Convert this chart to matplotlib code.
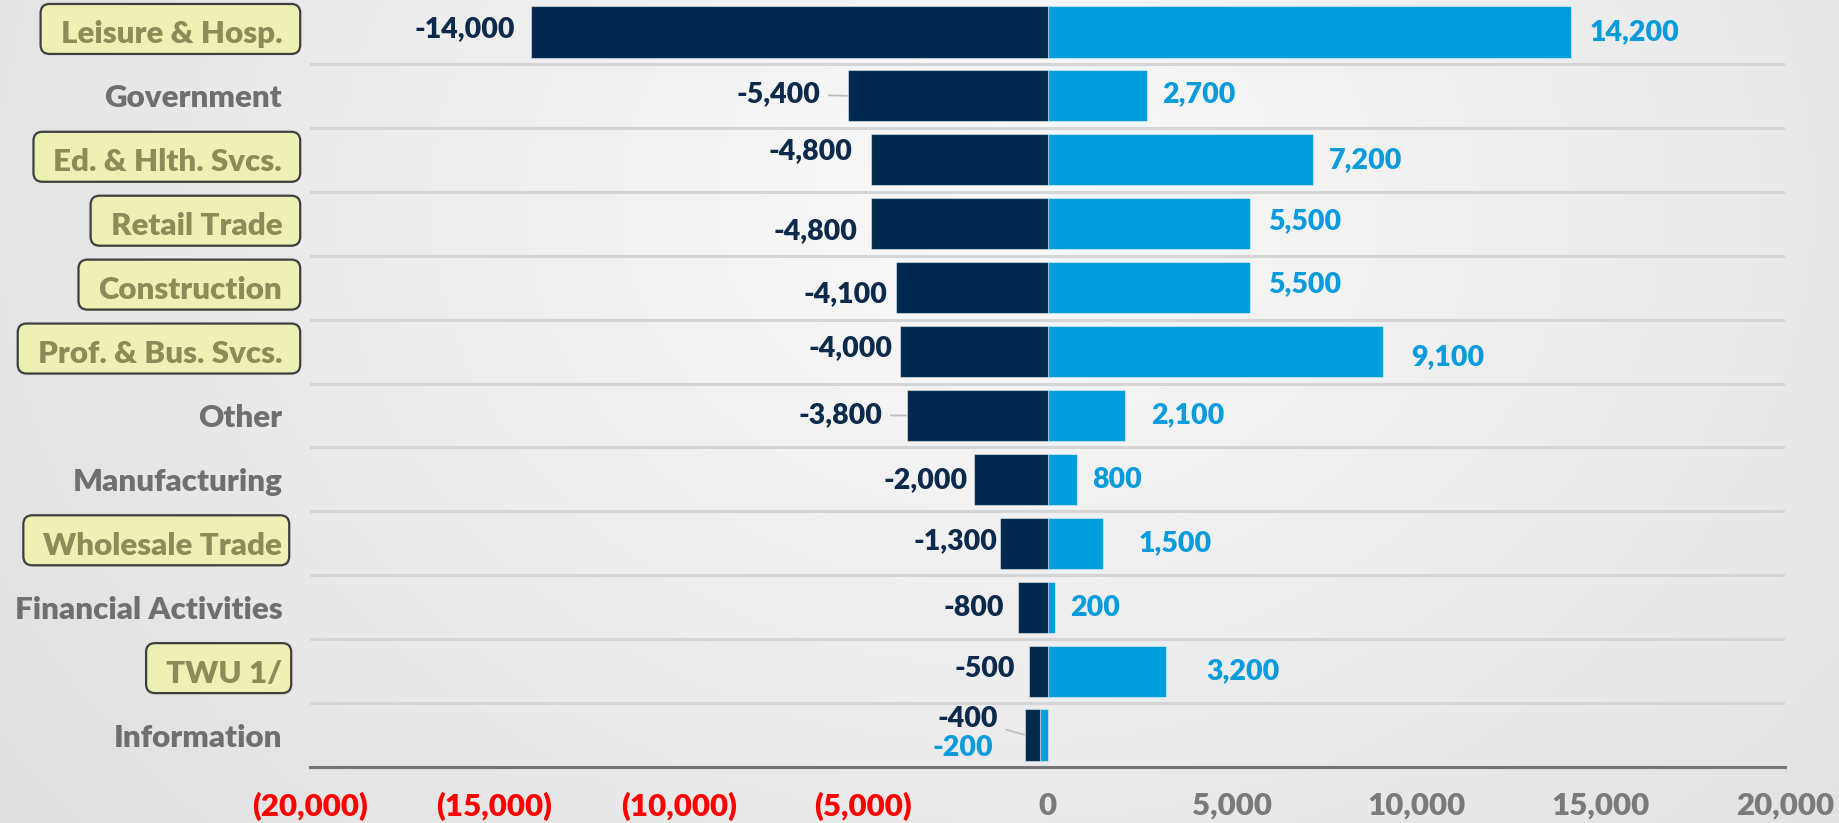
import numpy as np
import matplotlib
matplotlib.use("Agg")
import matplotlib.pyplot as plt
from matplotlib.patches import FancyBboxPatch
from matplotlib.transforms import IdentityTransform

# ---- data -------------------------------------------------------------
categories = ["Leisure & Hosp.", "Government", "Ed. & Hlth. Svcs.", "Retail Trade",
              "Construction", "Prof. & Bus. Svcs.", "Other", "Manufacturing",
              "Wholesale Trade", "Financial Activities", "TWU 1/", "Information"]
highlighted = [True, False, True, True, True, True, False, False, True, False, True, False]
losses = [-14000, -5400, -4800, -4800, -4100, -4000, -3800, -2000, -1300, -800, -500, -400]
gains = [14200, 2700, 7200, 5500, 5500, 9100, 2100, 800, 1500, 200, 3200, -200]
x_ticks = [-20000, -15000, -10000, -5000, 0, 5000, 10000, 15000, 20000]

# ---- label nudges (pixels: dx away from bar end, dy downward) ----------
loss_label_dx = [16, 28, 18, 13, 9, 7, 25, 6, 2, 14, 14, 27]
loss_label_dy = [-3, -2, -9, 7, 6, -3, 0, 1, -2, 1, -2, -16]
gain_label_dx = [18, 15, 16, 18, 18, 28, 26, 15, 36, 15, 41, 47]
gain_label_dy = [0, -2, 0, -3, -3, 6, 0, 1, 0, 1, 0, 13]
leader_rows = [1, 6, 11]
box_right_pad = [18, 0, 18, 18, 18, 18, 0, 0, 7, 0, 9, 0]

DARK = "#00294d"
LIGHT = "#009ddc"
NEG_TXT = "#0c2a4b"
POS_TXT = "#0a9bdb"
FONT = "Lato"

W, H, DPI = 1839, 823, 100
fig = plt.figure(figsize=(W / DPI, H / DPI), dpi=DPI)

# soft radial background
bg = fig.add_axes([0, 0, 1, 1], zorder=-1)
yy, xx = np.mgrid[0:H, 0:W]
d = np.sqrt(((xx - 1000) / 1100.0) ** 2 + ((yy - 200) / 900.0) ** 2)
v = np.clip(0.98 - 0.09 * d, 0.85, 1.0)
bg.imshow(np.dstack([v, v, v]), aspect="auto", extent=[0, 1, 0, 1], origin="upper")
bg.set_axis_off()

left_px, right_px, bottom_px, top_px = 310, 1785, 767, 0
ax = fig.add_axes([left_px / W, 1 - bottom_px / H, (right_px - left_px) / W,
                   (bottom_px - top_px) / H])
ax.set_facecolor("none")

n = len(categories)
y = np.arange(n)
gains_a = np.array(gains, dtype=float)
losses_a = np.array(losses, dtype=float)
loss_base = np.where(gains_a < 0, gains_a, 0.0)

ax.barh(y, gains_a, height=0.8, color=LIGHT, edgecolor=(1, 1, 1, 0.45), linewidth=0.8, zorder=3)
ax.barh(y, losses_a, left=loss_base, height=0.8, color=DARK, edgecolor=(1, 1, 1, 0.45),
        linewidth=0.8, zorder=3)

ax.set_xlim(-20000, 20000)
ax.set_ylim(n - 0.5, -0.5)

# row separators
for i in range(n - 1):
    ax.axhline(i + 0.5, color="#d5d5d5", lw=2.2, zorder=1)

for s in ["top", "right", "left"]:
    ax.spines[s].set_visible(False)
ax.spines["bottom"].set_color("#757575")
ax.spines["bottom"].set_linewidth(2.2)


def fmt_tick(v):
    if v < 0:
        return "({:,})".format(int(-v))
    return "{:,}".format(int(v))


ax.set_xticks(x_ticks)
ax.set_xticklabels([fmt_tick(t) for t in x_ticks], fontsize=22.5, fontweight="heavy",
                   family=FONT)
for t, lab in zip(x_ticks, ax.get_xticklabels()):
    lab.set_color("#ff0000" if t < 0 else "#7a7a7a")
ax.tick_params(axis="x", length=0, pad=18)

ax.set_yticks(y)
ax.set_yticklabels(categories, fontsize=22.5, fontweight="heavy", family=FONT)
for hl, lab in zip(highlighted, ax.get_yticklabels()):
    lab.set_color("#8c8c58" if hl else "#6f6f6f")
ax.tick_params(axis="y", length=0, pad=20)

VAL_FS = 20.5
# value labels
for i in range(n):
    end = loss_base[i] + losses_a[i]
    txt = "{:,}".format(int(losses[i]))
    arrow = None
    if i in leader_rows:
        arrow = dict(arrowstyle="-", color="#bdbdbd", lw=1.3, shrinkA=4, shrinkB=1)
    ax.annotate(txt, xy=(end, i), xytext=(-loss_label_dx[i], -loss_label_dy[i]),
                textcoords="offset pixels", ha="right", va="center",
                fontsize=VAL_FS, fontweight="heavy", family=FONT, color=NEG_TXT,
                arrowprops=arrow, zorder=4)
    gtxt = "{:,}".format(int(gains[i]))
    if gains[i] >= 0:
        ax.annotate(gtxt, xy=(gains_a[i], i), xytext=(gain_label_dx[i], -gain_label_dy[i]),
                    textcoords="offset pixels", ha="left", va="center",
                    fontsize=VAL_FS, fontweight="heavy", family=FONT, color=POS_TXT, zorder=4)
    else:
        ax.annotate(gtxt, xy=(gains_a[i], i), xytext=(-gain_label_dx[i], -gain_label_dy[i]),
                    textcoords="offset pixels", ha="right", va="center",
                    fontsize=VAL_FS, fontweight="heavy", family=FONT, color=POS_TXT, zorder=4)

# rounded highlight boxes behind selected category names
fig.canvas.draw()
renderer = fig.canvas.get_renderer()
row_h = (bottom_px - top_px) / n
for i, (hl, lab) in enumerate(zip(highlighted, ax.get_yticklabels())):
    if not hl:
        continue
    bb = lab.get_window_extent(renderer)
    center_from_top = top_px + (i + 0.5) * row_h - 3
    box_h = 50
    y0 = H - center_from_top - box_h / 2
    x0 = bb.x0 - 20
    x1 = bb.x1 + box_right_pad[i]
    patch = FancyBboxPatch((x0, y0), x1 - x0, box_h,
                           boxstyle="round,pad=0,rounding_size=9",
                           facecolor="#eff0b3", edgecolor="#3f3f3f", linewidth=1.6,
                           transform=IdentityTransform(), zorder=-0.5)
    fig.add_artist(patch)

fig.savefig("out.png", dpi=DPI)
